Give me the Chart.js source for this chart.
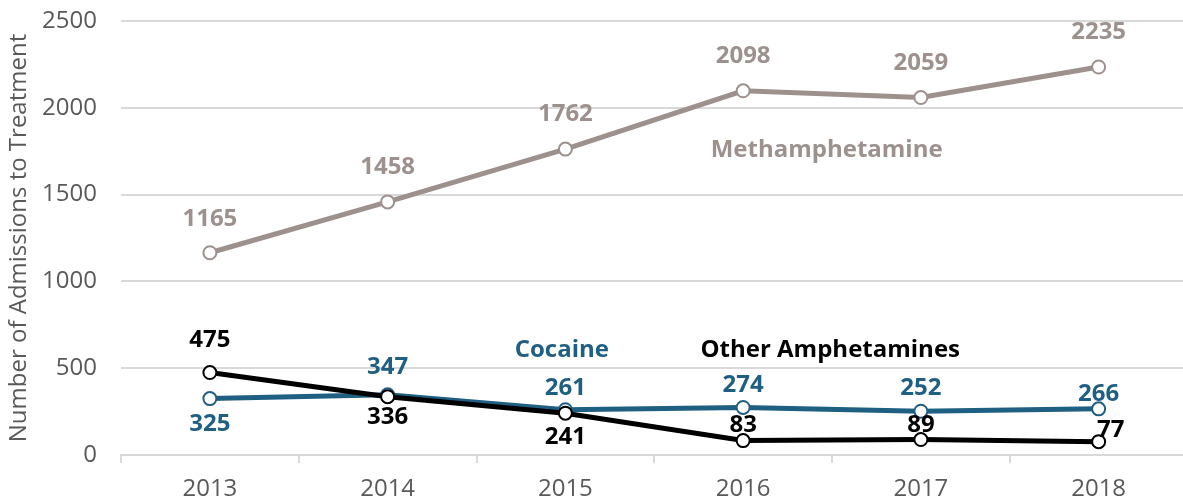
<!DOCTYPE html>
<html>
<head>
<meta charset="utf-8">
<script src="https://cdn.jsdelivr.net/npm/chart.js@4.4.0/dist/chart.umd.min.js"></script>
<style>
  html, body { margin: 0; padding: 0; background: #fff; overflow: hidden; }
  #wrap { width: 1196px; height: 504px; }
</style>
</head>
<body>
<div id="wrap"><canvas id="chart"></canvas></div>
<script>
// Datos
const years = ['2013', '2014', '2015', '2016', '2017', '2018'];
const methamphetamine = [1165, 1458, 1762, 2098, 2059, 2235];
const cocaine = [325, 347, 261, 274, 252, 266];
const otherAmphetamines = [475, 336, 241, 83, 89, 77];
const yTicks = [0, 500, 1000, 1500, 2000, 2500];

// Colores
const methColor = '#9d918d';
const cocaineColor = '#1f5f82';
const otherColor = '#000000';

// Desplazamiento de etiquetas (px) respecto al punto
const labelOffsets = {
    meth: [[0, -34], [0, -35], [0, -35], [0, -35], [0, -34], [0, -35]],
    cocaine: [[0, 26], [0, -28], [0, -22], [0, -22], [0, -23], [0, -15]],
    other: [[0, -32], [0, 20], [0, 24], [0, -15], [0, -14], [12, -11]]
};

// Nombres de las series dentro del gráfico (x = índice, y = valor)
const seriesNames = [
    { text: 'Methamphetamine', x: 3.47, y: 1757, color: methColor },
    { text: 'Cocaine', x: 1.98, y: 605, color: cocaineColor },
    { text: 'Other Amphetamines', x: 3.49, y: 605, color: otherColor }
];

const labelPlugin = {
    id: 'labelPlugin',
    afterDatasetsDraw(chart) {
        const ctx = chart.ctx;
        const xs = chart.scales.x;
        const ys = chart.scales.y;
        ctx.save();
        ctx.font = 'bold 24px "Open Sans"';
        ctx.textAlign = 'center';
        ctx.textBaseline = 'middle';
        chart.data.datasets.forEach((ds, i) => {
            const meta = chart.getDatasetMeta(i);
            const offs = labelOffsets[ds.key];
            ctx.fillStyle = ds.labelColor;
            meta.data.forEach((pt, j) => {
                ctx.fillText(String(ds.data[j]), pt.x + offs[j][0], pt.y + offs[j][1]);
            });
        });
        seriesNames.forEach(s => {
            ctx.fillStyle = s.color;
            ctx.fillText(s.text, xs.getPixelForValue(s.x), ys.getPixelForValue(s.y));
        });
        ctx.restore();
    }
};

const commonDs = {
    borderWidth: 5,
    pointRadius: 6.5,
    pointHoverRadius: 6.5,
    pointBorderWidth: 2,
    pointBackgroundColor: '#ffffff',
    tension: 0,
    fill: false
};

new Chart(document.getElementById('chart'), {
    type: 'line',
    data: {
        labels: years,
        datasets: [
            { ...commonDs, key: 'meth', label: 'Methamphetamine', data: methamphetamine,
              borderColor: methColor, pointBorderColor: methColor, labelColor: methColor, order: 2 },
            { ...commonDs, key: 'cocaine', label: 'Cocaine', data: cocaine,
              borderColor: cocaineColor, pointBorderColor: cocaineColor, labelColor: cocaineColor, order: 1 },
            { ...commonDs, key: 'other', label: 'Other Amphetamines', data: otherAmphetamines,
              borderColor: otherColor, pointBorderColor: otherColor, labelColor: otherColor, order: 0 }
        ]
    },
    options: {
        responsive: true,
        maintainAspectRatio: false,
        animation: false,
        layout: { padding: { top: 21, right: 0, left: 0, bottom: 0 } },
        plugins: {
            legend: { display: false },
            tooltip: { enabled: false }
        },
        scales: {
            x: {
                offset: true,
                grid: {
                    offset: true,
                    drawOnChartArea: false,
                    color: '#d9d9d9',
                    tickLength: 8,
                    lineWidth: 2
                },
                border: { color: '#d9d9d9', width: 2 },
                ticks: {
                    color: '#595959',
                    font: { family: 'Open Sans', size: 24 },
                    padding: 12
                },
                afterFit(s) { s.height = 49; }
            },
            y: {
                min: 0,
                max: 2500,
                afterBuildTicks(s) { s.ticks = yTicks.map(v => ({ value: v })); },
                // marcas invisibles para separar las etiquetas del eje sin inflar el padding superior
                grid: { color: '#d9d9d9', lineWidth: 2, drawTicks: true, tickLength: 20, tickColor: 'rgba(0,0,0,0)' },
                border: { display: false },
                ticks: {
                    color: '#595959',
                    font: { family: 'Open Sans', size: 24 },
                    padding: 4,
                    callback: v => String(v)
                },
                title: {
                    display: true,
                    text: 'Number of Admissions to Treatment',
                    color: '#595959',
                    font: { family: 'Open Sans', size: 24 },
                    padding: { top: 5, bottom: 0 }
                },
                afterFit(s) { s.width = 121; }
            }
        }
    },
    plugins: [labelPlugin]
});
</script>
</body>
</html>
